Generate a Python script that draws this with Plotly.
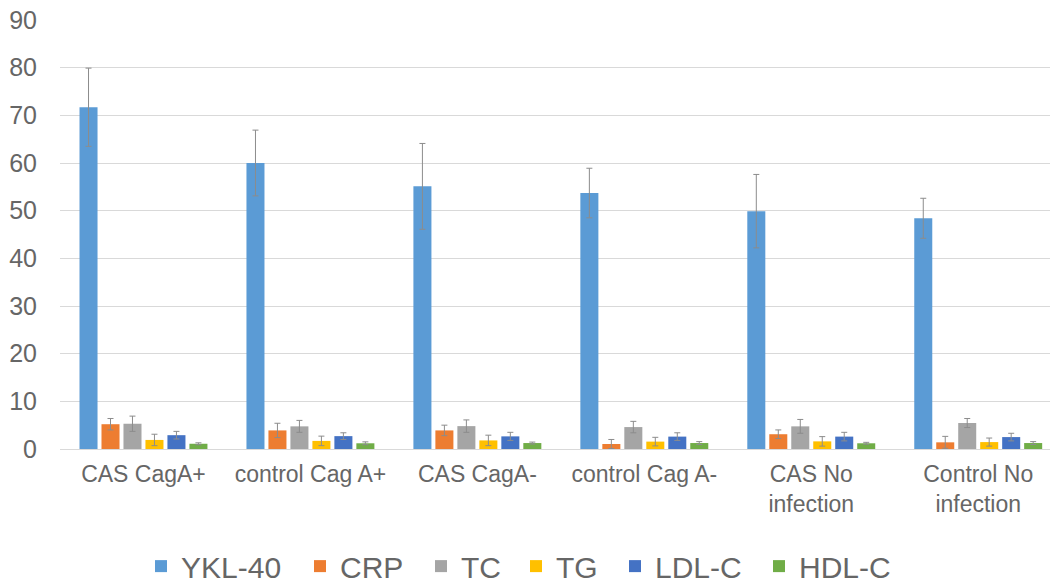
import plotly.graph_objects as go

categories = ["CAS CagA+", "control Cag A+", "CAS CagA-", "control Cag A-",
              "CAS No<br>infection", "Control No<br>infection"]

series_names = ["YKL-40", "CRP", "TC", "TG", "LDL-C", "HDL-C"]

ykl40 = [71.7, 60.0, 55.1, 53.7, 49.9, 48.4]
ykl40_err = [8.2, 6.9, 9.0, 5.2, 7.7, 4.2]

crp = [5.2, 3.9, 3.9, 1.05, 3.1, 1.4]
crp_err = [1.2, 1.5, 1.1, 0.95, 0.9, 1.25]

tc = [5.3, 4.75, 4.8, 4.6, 4.75, 5.45]
tc_err = [1.6, 1.25, 1.3, 1.2, 1.45, 0.95]

tg = [1.9, 1.7, 1.8, 1.55, 1.6, 1.45]
tg_err = [1.2, 1.0, 1.1, 0.9, 1.0, 0.85]

ldl = [2.9, 2.7, 2.65, 2.6, 2.6, 2.5]
ldl_err = [0.8, 0.7, 0.85, 0.8, 0.9, 0.8]

hdl = [1.1, 1.2, 1.25, 1.25, 1.2, 1.25]
hdl_err = [0.2, 0.3, 0.2, 0.3, 0.2, 0.3]

colors = ["#5B9BD5", "#ED7D31", "#A5A5A5", "#FFC000", "#4472C4", "#70AD47"]

values = [ykl40, crp, tc, tg, ldl, hdl]
errors = [ykl40_err, crp_err, tc_err, tg_err, ldl_err, hdl_err]

# left pixel position of each legend swatch in the reference
legend_px = [155, 314, 435, 530, 629, 773]
PLOT_L, PLOT_W = 60, 990

fig = go.Figure()
legend_layout = {}
for i, (name, v, e, c) in enumerate(zip(series_names, values, errors, colors)):
    lg = "legend" if i == 0 else f"legend{i + 1}"
    fig.add_trace(go.Bar(
        name=name, x=categories, y=v, marker_color=c,
        marker_line_width=0, legend=lg, showlegend=True,
        error_y=dict(type="data", array=e, visible=True,
                     color="#8C8C8C", thickness=1, width=3),
    ))
    legend_layout[lg] = dict(
        orientation="h", x=(legend_px[i] - 14 - PLOT_L) / PLOT_W,
        xanchor="left", y=-0.273, yanchor="middle",
        font=dict(size=30, color="#666666"), itemwidth=30,
        bgcolor="rgba(0,0,0,0)", visible=True,
    )

fig.update_layout(
    width=1050, height=586, showlegend=True,
    barmode="group", bargap=0.21, bargroupgap=0.18,
    plot_bgcolor="white", paper_bgcolor="white",
    margin=dict(l=60, r=0, t=20, b=137, autoexpand=False),
    font=dict(family="Liberation Sans, Arial, sans-serif", color="#666666"),
    xaxis=dict(range=[-0.5, 5.43], tickfont=dict(size=23, color="#666666"),
               showline=False, ticks="", showgrid=False, automargin=False,
               ticklabelstandoff=9),
    yaxis=dict(range=[0, 90], dtick=10, tickfont=dict(size=25, color="#666666"),
               gridcolor="#D9D9D9", gridwidth=1, zeroline=True,
               zerolinecolor="#D9D9D9", zerolinewidth=1, ticks="",
               ticklabelstandoff=22, automargin=False),
    **legend_layout,
)

fig.write_html(
    "out.html",
    config={"displayModeBar": False},
    post_script="document.body.style.margin='0';document.body.style.overflow='hidden';",
)
